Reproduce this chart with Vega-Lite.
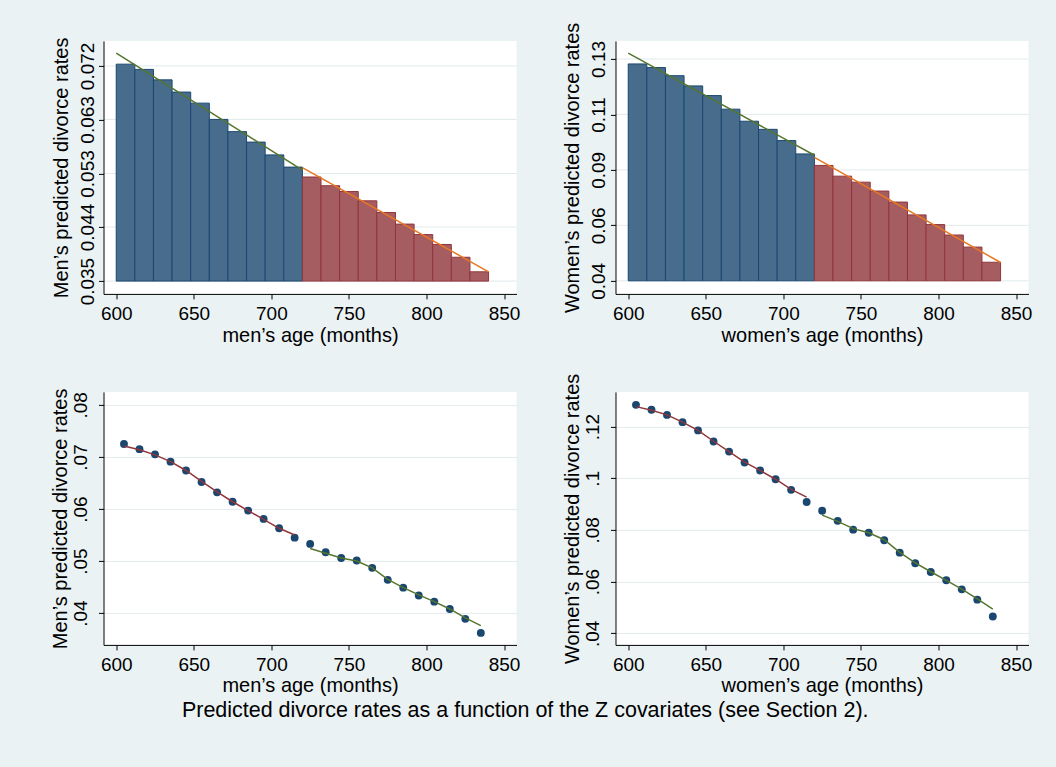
{
  "$schema": "https://vega.github.io/schema/vega-lite/v6.json",
  "background": "#eaf2f3",
  "autosize": {"type": "pad"},
  "padding": {"left": 49.5, "top": 21.9, "right": 40, "bottom": 60},
  "bounds": "flush",
  "columns": 2,
  "spacing": {"row": 98, "column": 99},
  "title": {
    "text": "Predicted divorce rates as a function of the Z covariates (see Section 2).",
    "orient": "bottom", "anchor": "middle", "fontSize": 21.5, "font": "Liberation Sans",
    "fontWeight": "normal", "color": "#000000", "offset": 4, "dx": -16
  },
  "config": {
    "font": "Liberation Sans",
    "view": {"fill": "white", "stroke": null},
    "axis": {
      "labelFont": "Liberation Sans", "titleFont": "Liberation Sans",
      "labelFontSize": 19, "titleFontSize": 20, "labelColor": "#000000", "titleColor": "#000000",
      "titleFontWeight": "normal", "domainColor": "#000000", "tickColor": "#000000",
      "tickSize": 5, "gridColor": "#e1eaec", "gridWidth": 1, "labelFlush": false, "labelOverlap": false
    }
  },
  "datasets": {
    "menBars": [
      {"lo":600,"hi":612,"rate":0.0722,"side":"below"},
      {"lo":612,"hi":624,"rate":0.0713,"side":"below"},
      {"lo":624,"hi":636,"rate":0.0695,"side":"below"},
      {"lo":636,"hi":648,"rate":0.0674,"side":"below"},
      {"lo":648,"hi":660,"rate":0.0655,"side":"below"},
      {"lo":660,"hi":672,"rate":0.0627,"side":"below"},
      {"lo":672,"hi":684,"rate":0.0606,"side":"below"},
      {"lo":684,"hi":696,"rate":0.0588,"side":"below"},
      {"lo":696,"hi":708,"rate":0.0566,"side":"below"},
      {"lo":708,"hi":720,"rate":0.0545,"side":"below"},
      {"lo":720,"hi":732,"rate":0.0528,"side":"above"},
      {"lo":732,"hi":744,"rate":0.0513,"side":"above"},
      {"lo":744,"hi":756,"rate":0.0503,"side":"above"},
      {"lo":756,"hi":768,"rate":0.0487,"side":"above"},
      {"lo":768,"hi":780,"rate":0.0467,"side":"above"},
      {"lo":780,"hi":792,"rate":0.0447,"side":"above"},
      {"lo":792,"hi":804,"rate":0.0429,"side":"above"},
      {"lo":804,"hi":816,"rate":0.0412,"side":"above"},
      {"lo":816,"hi":828,"rate":0.0390,"side":"above"},
      {"lo":828,"hi":840,"rate":0.0365,"side":"above"}
    ],
    "womenBars": [
      {"lo":600,"hi":612,"rate":0.1259,"side":"below"},
      {"lo":612,"hi":624,"rate":0.1245,"side":"below"},
      {"lo":624,"hi":636,"rate":0.1214,"side":"below"},
      {"lo":636,"hi":648,"rate":0.1175,"side":"below"},
      {"lo":648,"hi":660,"rate":0.1138,"side":"below"},
      {"lo":660,"hi":672,"rate":0.1086,"side":"below"},
      {"lo":672,"hi":684,"rate":0.1040,"side":"below"},
      {"lo":684,"hi":696,"rate":0.1009,"side":"below"},
      {"lo":696,"hi":708,"rate":0.0966,"side":"below"},
      {"lo":708,"hi":720,"rate":0.0915,"side":"below"},
      {"lo":720,"hi":732,"rate":0.0871,"side":"above"},
      {"lo":732,"hi":744,"rate":0.0830,"side":"above"},
      {"lo":744,"hi":756,"rate":0.0807,"side":"above"},
      {"lo":756,"hi":768,"rate":0.0773,"side":"above"},
      {"lo":768,"hi":780,"rate":0.0731,"side":"above"},
      {"lo":780,"hi":792,"rate":0.0682,"side":"above"},
      {"lo":792,"hi":804,"rate":0.0645,"side":"above"},
      {"lo":804,"hi":816,"rate":0.0605,"side":"above"},
      {"lo":816,"hi":828,"rate":0.0559,"side":"above"},
      {"lo":828,"hi":840,"rate":0.0501,"side":"above"}
    ],
    "menLines": [
      {"age":600,"rate":0.0741,"seg":"below"},
      {"age":720,"rate":0.0540,"seg":"below"},
      {"age":720,"rate":0.0544,"seg":"above"},
      {"age":840,"rate":0.0365,"seg":"above"}
    ],
    "womenLines": [
      {"age":600,"rate":0.1300,"seg":"below"},
      {"age":720,"rate":0.0910,"seg":"below"},
      {"age":720,"rate":0.0902,"seg":"above"},
      {"age":840,"rate":0.0500,"seg":"above"}
    ],
    "menGrid": [{"t":0.0349},{"t":0.0442},{"t":0.0534},{"t":0.0627},{"t":0.0719}],
    "womenGrid": [{"t":0.043},{"t":0.0642},{"t":0.0854},{"t":0.1066},{"t":0.1278}],
    "menPoints": [
      {"age":605,"rate":0.0725,"fit":0.0721,"side":"below"},
      {"age":615,"rate":0.0715,"fit":0.0714,"side":"below"},
      {"age":625,"rate":0.0705,"fit":0.0704,"side":"below"},
      {"age":635,"rate":0.0691,"fit":0.0691,"side":"below"},
      {"age":645,"rate":0.0674,"fit":0.0674,"side":"below"},
      {"age":655,"rate":0.0652,"fit":0.0653,"side":"below"},
      {"age":665,"rate":0.0632,"fit":0.0633,"side":"below"},
      {"age":675,"rate":0.0614,"fit":0.0614,"side":"below"},
      {"age":685,"rate":0.0597,"fit":0.0597,"side":"below"},
      {"age":695,"rate":0.0581,"fit":0.0580,"side":"below"},
      {"age":705,"rate":0.0563,"fit":0.0563,"side":"below"},
      {"age":715,"rate":0.0545,"fit":0.0550,"side":"below"},
      {"age":725,"rate":0.0533,"fit":0.0524,"side":"above"},
      {"age":735,"rate":0.0517,"fit":0.0515,"side":"above"},
      {"age":745,"rate":0.0506,"fit":0.0506,"side":"above"},
      {"age":755,"rate":0.0501,"fit":0.0500,"side":"above"},
      {"age":765,"rate":0.0487,"fit":0.0487,"side":"above"},
      {"age":775,"rate":0.0464,"fit":0.0465,"side":"above"},
      {"age":785,"rate":0.0449,"fit":0.0449,"side":"above"},
      {"age":795,"rate":0.0434,"fit":0.0435,"side":"above"},
      {"age":805,"rate":0.0422,"fit":0.0422,"side":"above"},
      {"age":815,"rate":0.0408,"fit":0.0408,"side":"above"},
      {"age":825,"rate":0.0389,"fit":0.0391,"side":"above"},
      {"age":835,"rate":0.0362,"fit":0.0376,"side":"above"}
    ],
    "womenPoints": [
      {"age":605,"rate":0.1284,"fit":0.1277,"side":"below"},
      {"age":615,"rate":0.1265,"fit":0.1263,"side":"below"},
      {"age":625,"rate":0.1245,"fit":0.1245,"side":"below"},
      {"age":635,"rate":0.1217,"fit":0.1217,"side":"below"},
      {"age":645,"rate":0.1185,"fit":0.1185,"side":"below"},
      {"age":655,"rate":0.1142,"fit":0.1143,"side":"below"},
      {"age":665,"rate":0.1103,"fit":0.1103,"side":"below"},
      {"age":675,"rate":0.1061,"fit":0.1062,"side":"below"},
      {"age":685,"rate":0.1030,"fit":0.1030,"side":"below"},
      {"age":695,"rate":0.0996,"fit":0.0996,"side":"below"},
      {"age":705,"rate":0.0955,"fit":0.0957,"side":"below"},
      {"age":715,"rate":0.0908,"fit":0.0927,"side":"below"},
      {"age":725,"rate":0.0874,"fit":0.0857,"side":"above"},
      {"age":735,"rate":0.0835,"fit":0.0833,"side":"above"},
      {"age":745,"rate":0.0801,"fit":0.0805,"side":"above"},
      {"age":755,"rate":0.0789,"fit":0.0789,"side":"above"},
      {"age":765,"rate":0.0760,"fit":0.0762,"side":"above"},
      {"age":775,"rate":0.0712,"fit":0.0713,"side":"above"},
      {"age":785,"rate":0.0671,"fit":0.0672,"side":"above"},
      {"age":795,"rate":0.0637,"fit":0.0638,"side":"above"},
      {"age":805,"rate":0.0605,"fit":0.0605,"side":"above"},
      {"age":815,"rate":0.0570,"fit":0.0571,"side":"above"},
      {"age":825,"rate":0.0530,"fit":0.0533,"side":"above"},
      {"age":835,"rate":0.0465,"fit":0.0493,"side":"above"}
    ]
  },
  "concat": [
    {
      "width": 413, "height": 253,
      "layer": [
        {
          "mark": {"type": "rect", "fill": "white", "stroke": "#dce6e8", "strokeWidth": 1, "clip": false},
          "encoding": {
            "x": {"datum": 542.17, "type": "quantitative",
              "scale": {"domain": [591.8, 858], "nice": false, "zero": false},
              "axis": {"values": [600,650,700,750,800,850], "format": "d", "title": "men’s age (months)", "grid": false, "zindex": 1, "labelPadding": 6, "titlePadding": 2}},
            "x2": {"datum": 871.5},
            "y": {"datum": 0.07964, "type": "quantitative",
              "scale": {"domain": [0.0327, 0.0762], "nice": false, "zero": false},
              "axis": {"values": [0.0349,0.0442,0.0534,0.0627,0.0719], "format": ".3f", "title": "Men’s predicted divorce rates", "grid": false, "zindex": 1,
                "labelAngle": -90, "labelAlign": "center", "labelBaseline": "alphabetic", "labelPadding": 5.5, "titlePadding": 10.5, "titleBaseline": "alphabetic"}},
            "y2": {"datum": 0.01946}
          }
        },
        {"data": {"name": "menGrid"}, "mark": {"type": "rule", "color": "#e1eaec", "strokeWidth": 1},
          "encoding": {"y": {"field": "t", "type": "quantitative"}}},
        {"data": {"name": "menBars"}, "transform": [{"filter": "datum.side == 'below'"}],
          "mark": {"type": "rect", "fill": "#486c8c", "stroke": "#1a476f", "strokeWidth": 1},
          "encoding": {"x": {"field": "lo", "type": "quantitative"}, "x2": {"field": "hi"},
            "y": {"field": "rate", "type": "quantitative"}, "y2": {"datum": 0.0349}}},
        {"data": {"name": "menBars"}, "transform": [{"filter": "datum.side == 'above'"}],
          "mark": {"type": "rect", "fill": "#a65d62", "stroke": "#90353b", "strokeWidth": 1},
          "encoding": {"x": {"field": "lo", "type": "quantitative"}, "x2": {"field": "hi"},
            "y": {"field": "rate", "type": "quantitative"}, "y2": {"datum": 0.0349}}},
        {"data": {"name": "menLines"}, "transform": [{"filter": "datum.seg == 'below'"}],
          "mark": {"type": "line", "color": "#55752f", "strokeWidth": 1.5},
          "encoding": {"x": {"field": "age", "type": "quantitative"}, "y": {"field": "rate", "type": "quantitative"}}},
        {"data": {"name": "menLines"}, "transform": [{"filter": "datum.seg == 'above'"}],
          "mark": {"type": "line", "color": "#e87722", "strokeWidth": 1.5},
          "encoding": {"x": {"field": "age", "type": "quantitative"}, "y": {"field": "rate", "type": "quantitative"}}}
      ]
    },
    {
      "width": 413, "height": 253,
      "layer": [
        {
          "mark": {"type": "rect", "fill": "white", "stroke": "#dce6e8", "strokeWidth": 1, "clip": false},
          "encoding": {
            "x": {"datum": 541.3, "type": "quantitative",
              "scale": {"domain": [591.8, 858], "nice": false, "zero": false},
              "axis": {"values": [600,650,700,750,800,850], "format": "d", "title": "women’s age (months)", "grid": false, "zindex": 1, "labelPadding": 6, "titlePadding": 2}},
            "x2": {"datum": 870.25},
            "y": {"datum": 0.14234, "type": "quantitative",
              "scale": {"domain": [0.0380, 0.1347], "nice": false, "zero": false},
              "axis": {"values": [0.043,0.0642,0.0854,0.1066,0.1278], "format": ".2f", "title": "Women’s predicted divorce rates", "grid": false, "zindex": 1,
                "labelAngle": -90, "labelAlign": "center", "labelBaseline": "alphabetic", "labelPadding": 6, "titlePadding": 10.5, "titleBaseline": "alphabetic"}},
            "y2": {"datum": 0.00857}
          }
        },
        {"data": {"name": "womenGrid"}, "mark": {"type": "rule", "color": "#e1eaec", "strokeWidth": 1},
          "encoding": {"y": {"field": "t", "type": "quantitative"}}},
        {"data": {"name": "womenBars"}, "transform": [{"filter": "datum.side == 'below'"}],
          "mark": {"type": "rect", "fill": "#486c8c", "stroke": "#1a476f", "strokeWidth": 1},
          "encoding": {"x": {"field": "lo", "type": "quantitative"}, "x2": {"field": "hi"},
            "y": {"field": "rate", "type": "quantitative"}, "y2": {"datum": 0.043}}},
        {"data": {"name": "womenBars"}, "transform": [{"filter": "datum.side == 'above'"}],
          "mark": {"type": "rect", "fill": "#a65d62", "stroke": "#90353b", "strokeWidth": 1},
          "encoding": {"x": {"field": "lo", "type": "quantitative"}, "x2": {"field": "hi"},
            "y": {"field": "rate", "type": "quantitative"}, "y2": {"datum": 0.043}}},
        {"data": {"name": "womenLines"}, "transform": [{"filter": "datum.seg == 'below'"}],
          "mark": {"type": "line", "color": "#55752f", "strokeWidth": 1.5},
          "encoding": {"x": {"field": "age", "type": "quantitative"}, "y": {"field": "rate", "type": "quantitative"}}},
        {"data": {"name": "womenLines"}, "transform": [{"filter": "datum.seg == 'above'"}],
          "mark": {"type": "line", "color": "#e87722", "strokeWidth": 1.5},
          "encoding": {"x": {"field": "age", "type": "quantitative"}, "y": {"field": "rate", "type": "quantitative"}}}
      ]
    },
    {
      "width": 413, "height": 253,
      "layer": [
        {"data": {"name": "menPoints"},
          "mark": {"type": "circle", "size": 62, "color": "#1a476f", "opacity": 1},
          "encoding": {
            "x": {"field": "age", "type": "quantitative",
              "scale": {"domain": [591.8, 858], "nice": false, "zero": false},
              "axis": {"values": [600,650,700,750,800,850], "format": "d", "title": "men’s age (months)", "grid": false, "labelPadding": 6, "titlePadding": 1}},
            "y": {"field": "rate", "type": "quantitative",
              "scale": {"domain": [0.0339, 0.0825], "nice": false, "zero": false},
              "axis": {"values": [0.04,0.05,0.06,0.07,0.08], "labelExpr": "substring(format(datum.value, '~g'), 1)", "title": "Men’s predicted divorce rates", "grid": true,
                "labelAngle": -90, "labelAlign": "center", "labelBaseline": "alphabetic", "labelPadding": 12, "titlePadding": 5, "titleBaseline": "alphabetic"}}
          }},
        {"data": {"name": "menPoints"}, "transform": [{"filter": "datum.side == 'below'"}],
          "mark": {"type": "line", "color": "#90353b", "strokeWidth": 1.5},
          "encoding": {"x": {"field": "age", "type": "quantitative"}, "y": {"field": "fit", "type": "quantitative"}}},
        {"data": {"name": "menPoints"}, "transform": [{"filter": "datum.side == 'above'"}],
          "mark": {"type": "line", "color": "#55752f", "strokeWidth": 1.5},
          "encoding": {"x": {"field": "age", "type": "quantitative"}, "y": {"field": "fit", "type": "quantitative"}}},
        {"mark": {"type": "rule", "color": "#c10534", "strokeWidth": 1.5},
          "encoding": {"x": {"datum": 720, "type": "quantitative"}}}
      ]
    },
    {
      "width": 413, "height": 253,
      "layer": [
        {"data": {"name": "womenPoints"},
          "mark": {"type": "circle", "size": 62, "color": "#1a476f", "opacity": 1},
          "encoding": {
            "x": {"field": "age", "type": "quantitative",
              "scale": {"domain": [591.8, 858], "nice": false, "zero": false},
              "axis": {"values": [600,650,700,750,800,850], "format": "d", "title": "women’s age (months)", "grid": false, "labelPadding": 6, "titlePadding": 1}},
            "y": {"field": "rate", "type": "quantitative",
              "scale": {"domain": [0.0355, 0.1334], "nice": false, "zero": false},
              "axis": {"values": [0.04,0.06,0.08,0.1,0.12], "labelExpr": "substring(format(datum.value, '~g'), 1)", "title": "Women’s predicted divorce rates", "grid": true,
                "labelAngle": -90, "labelAlign": "center", "labelBaseline": "alphabetic", "labelPadding": 12, "titlePadding": 5, "titleBaseline": "alphabetic"}}
          }},
        {"data": {"name": "womenPoints"}, "transform": [{"filter": "datum.side == 'below'"}],
          "mark": {"type": "line", "color": "#90353b", "strokeWidth": 1.5},
          "encoding": {"x": {"field": "age", "type": "quantitative"}, "y": {"field": "fit", "type": "quantitative"}}},
        {"data": {"name": "womenPoints"}, "transform": [{"filter": "datum.side == 'above'"}],
          "mark": {"type": "line", "color": "#55752f", "strokeWidth": 1.5},
          "encoding": {"x": {"field": "age", "type": "quantitative"}, "y": {"field": "fit", "type": "quantitative"}}},
        {"mark": {"type": "rule", "color": "#c10534", "strokeWidth": 1.5},
          "encoding": {"x": {"datum": 720, "type": "quantitative"}}}
      ]
    }
  ]
}
